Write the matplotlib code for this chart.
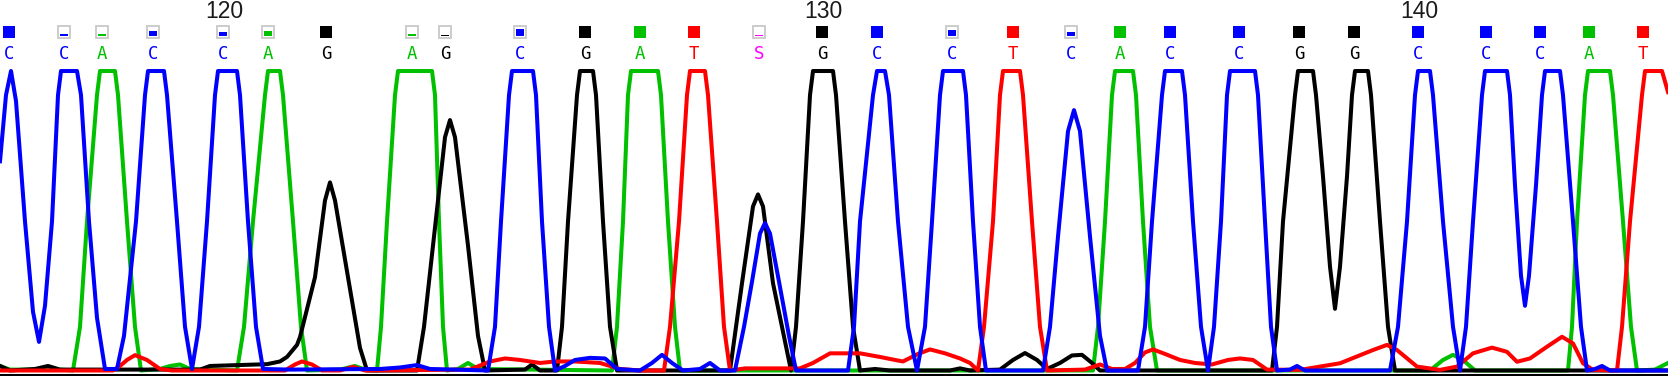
import numpy as np
import matplotlib
matplotlib.use('Agg')
import matplotlib.pyplot as plt
from matplotlib.patches import Rectangle
from matplotlib.transforms import blended_transform_factory

# trace vertices: scan position, relative intensity (1.0 = clipped top)
blue_x = [0, 6, 11, 16, 25, 33, 39, 45, 52, 58, 61, 77, 81, 89, 97, 105, 117, 124, 136, 145,
          148, 164, 167, 177, 185, 192, 199, 207, 215, 218, 237, 240, 248, 256, 263, 290, 380,
          400, 417, 430, 488, 495, 501, 509, 512, 533, 536, 542, 549, 555, 565, 575, 590, 605,
          617, 640, 652, 662, 672, 683, 700, 710, 720, 735, 744, 752, 760, 765, 770, 779, 789,
          796, 848, 854, 860, 873, 877, 885, 889, 898, 908, 917, 925, 932, 940, 943, 963, 966,
          973, 980, 986, 1043, 1050, 1058, 1068, 1074, 1080, 1090, 1100, 1107, 1138, 1145,
          1152, 1162, 1165, 1182, 1185, 1193, 1201, 1208, 1214, 1221, 1227, 1230, 1255, 1258,
          1265, 1271, 1277, 1290, 1297, 1305, 1390, 1398, 1407, 1415, 1418, 1430, 1433, 1443,
          1453, 1460, 1466, 1473, 1482, 1485, 1507, 1510, 1515, 1521, 1525, 1529, 1536, 1542,
          1545, 1560, 1563, 1573, 1581, 1587, 1595, 1602, 1610, 1668]
blue_y = [0.70, 0.92, 1.00, 0.90, 0.50, 0.20, 0.10, 0.22, 0.50, 0.92, 1.00, 1.00, 0.92, 0.50,
          0.18, 0.01, 0.01, 0.12, 0.50, 0.92, 1.00, 1.00, 0.92, 0.50, 0.15, 0.01, 0.15, 0.50,
          0.92, 1.00, 1.00, 0.92, 0.50, 0.15, 0.01, 0.008, 0.01, 0.015, 0.023, 0.01, 0.005,
          0.15, 0.50, 0.92, 1.00, 1.00, 0.92, 0.50, 0.15, 0.005, 0.02, 0.04, 0.047, 0.045,
          0.01, 0.005, 0.03, 0.057, 0.03, 0.005, 0.01, 0.03, 0.005, 0.005, 0.15, 0.30, 0.46,
          0.495, 0.46, 0.30, 0.12, 0.005, 0.005, 0.15, 0.50, 0.92, 1.00, 1.00, 0.92, 0.50,
          0.15, 0.005, 0.15, 0.50, 0.92, 1.00, 1.00, 0.92, 0.50, 0.15, 0.005, 0.005, 0.15, 0.45,
          0.80, 0.87, 0.80, 0.45, 0.12, 0.005, 0.005, 0.15, 0.50, 0.92, 1.00, 1.00, 0.92, 0.50,
          0.15, 0.005, 0.15, 0.50, 0.92, 1.00, 1.00, 0.92, 0.50, 0.15, 0.005, 0.008, 0.02,
          0.005, 0.005, 0.15, 0.50, 0.92, 1.00, 1.00, 0.92, 0.50, 0.15, 0.005, 0.15, 0.50, 0.92,
          1.00, 1.00, 0.92, 0.62, 0.32, 0.22, 0.32, 0.62, 0.92, 1.00, 1.00, 0.92, 0.50, 0.15,
          0.005, 0.01, 0.02, 0.005, 0.005]

green_x = [0, 10, 60, 73, 80, 87, 97, 100, 115, 118, 127, 135, 141, 160, 170, 180, 190, 237,
           244, 253, 265, 268, 280, 283, 293, 301, 307, 340, 355, 365, 377, 381, 387, 395, 398,
           432, 435, 439, 443, 447, 458, 468, 478, 612, 617, 623, 628, 631, 658, 661, 668, 675,
           680, 1093, 1098, 1105, 1112, 1115, 1133, 1136, 1143, 1150, 1157, 1430, 1443, 1453,
           1463, 1475, 1568, 1572, 1577, 1585, 1588, 1610, 1613, 1623, 1631, 1637, 1655, 1668]
green_y = [0.02, 0.008, 0.008, 0.005, 0.15, 0.50, 0.92, 1.00, 1.00, 0.92, 0.50, 0.15, 0.005,
           0.01, 0.02, 0.025, 0.01, 0.005, 0.15, 0.50, 0.92, 1.00, 1.00, 0.92, 0.50, 0.15,
           0.005, 0.008, 0.02, 0.008, 0.005, 0.15, 0.50, 0.92, 1.00, 1.00, 0.92, 0.50, 0.15,
           0.005, 0.01, 0.03, 0.01, 0.005, 0.15, 0.50, 0.92, 1.00, 1.00, 0.92, 0.50, 0.15, 0.005,
           0.005, 0.15, 0.50, 0.92, 1.00, 1.00, 0.92, 0.50, 0.15, 0.005, 0.005, 0.04, 0.057,
           0.04, 0.005, 0.005, 0.15, 0.50, 0.92, 1.00, 1.00, 0.92, 0.50, 0.15, 0.005, 0.008, 0.03]

black_x = [0, 10, 35, 48, 60, 200, 210, 267, 280, 287, 297, 300, 315, 325, 330, 335, 348,
           360, 367, 417, 424, 433, 445, 450, 455, 468, 478, 485, 525, 532, 540, 557, 562, 568,
           577, 580, 593, 596, 603, 610, 617, 730, 742, 753, 758, 763, 773, 791, 796, 803, 810,
           813, 833, 836, 845, 853, 860, 875, 890, 950, 960, 970, 1000, 1013, 1025, 1037, 1047,
           1060, 1072, 1082, 1092, 1100, 1272, 1277, 1283, 1295, 1298, 1313, 1316, 1323, 1330,
           1335, 1340, 1347, 1352, 1355, 1368, 1371, 1380, 1388, 1395, 1668]
black_y = [0.02, 0.005, 0.01, 0.02, 0.008, 0.008, 0.02, 0.026, 0.035, 0.05, 0.09, 0.116,
           0.315, 0.57, 0.63, 0.57, 0.315, 0.08, 0.005, 0.005, 0.15, 0.42, 0.78, 0.837, 0.78,
           0.42, 0.12, 0.005, 0.008, 0.025, 0.005, 0.005, 0.15, 0.50, 0.92, 1.00, 1.00, 0.92,
           0.50, 0.15, 0.005, 0.005, 0.295, 0.55, 0.59, 0.55, 0.295, 0.005, 0.15, 0.50, 0.92,
           1.00, 1.00, 0.92, 0.50, 0.15, 0.005, 0.01, 0.005, 0.005, 0.012, 0.005, 0.008, 0.04,
           0.063, 0.04, 0.01, 0.03, 0.055, 0.057, 0.03, 0.005, 0.005, 0.15, 0.50, 0.92, 1.00,
           1.00, 0.92, 0.65, 0.35, 0.21, 0.35, 0.65, 0.92, 1.00, 1.00, 0.92, 0.50, 0.15, 0.005,
           0.005]

red_x = [0, 113, 120, 127, 135, 147, 160, 172, 285, 295, 302, 312, 322, 340, 353, 365, 470,
         490, 505, 520, 540, 555, 575, 600, 620, 640, 664, 670, 679, 687, 690, 705, 708, 717,
         724, 730, 745, 800, 813, 830, 860, 880, 895, 903, 918, 930, 945, 960, 970, 978, 984,
         993, 1000, 1003, 1020, 1023, 1032, 1040, 1047, 1085, 1100, 1112, 1125, 1135, 1145,
         1153, 1165, 1180, 1195, 1212, 1228, 1240, 1253, 1267, 1300, 1340, 1373, 1387, 1397,
         1417, 1440, 1457, 1473, 1492, 1507, 1517, 1530, 1547, 1562, 1573, 1583, 1593, 1617,
         1622, 1630, 1642, 1645, 1662, 1668]
red_y = [0.005, 0.005, 0.02, 0.04, 0.056, 0.04, 0.01, 0.005, 0.005, 0.025, 0.035, 0.025, 0.005,
         0.005, 0.017, 0.005, 0.008, 0.035, 0.045, 0.04, 0.03, 0.035, 0.035, 0.03, 0.01, 0.005,
         0.005, 0.15, 0.50, 0.92, 1.00, 1.00, 0.92, 0.50, 0.15, 0.005, 0.012, 0.012, 0.03,
         0.062, 0.062, 0.05, 0.04, 0.035, 0.06, 0.075, 0.062, 0.045, 0.03, 0.005, 0.15, 0.50,
         0.92, 1.00, 1.00, 0.92, 0.50, 0.15, 0.005, 0.008, 0.025, 0.01, 0.01, 0.03, 0.065,
         0.075, 0.06, 0.04, 0.03, 0.025, 0.04, 0.045, 0.04, 0.008, 0.007, 0.029, 0.073, 0.09,
         0.073, 0.018, 0.007, 0.018, 0.062, 0.081, 0.067, 0.034, 0.045, 0.084, 0.117, 0.095,
         0.029, 0.007, 0.005, 0.15, 0.50, 0.92, 1.00, 1.00, 0.93]

# base calls, their scan positions and quality (fraction of the box that is filled)
calls = "CCACCAGAGCGATSGCCTCACCGGCCCAT"
call_x = [9, 64, 102, 153, 223, 268, 326, 412, 445, 520, 585, 640, 694, 759, 822, 877, 952,
          1013, 1071, 1120, 1170, 1239, 1299, 1354, 1418, 1486, 1540, 1589, 1643]
call_qual = [1.0, 0.22, 0.25, 0.6, 0.45, 0.6, 1.0, 0.25, 0.15, 0.85, 1.0, 1.0, 1.0, 0.2, 1.0,
             1.0, 0.7, 1.0, 0.45, 1.0, 1.0, 1.0, 1.0, 1.0, 1.0, 1.0, 1.0, 1.0, 1.0]
first_base = 116

base_colors = {'A': '#00c000', 'C': '#0000ff', 'G': '#000000', 'T': '#ff0000', 'S': '#ff00ff'}

fig = plt.figure(figsize=(16.68, 3.76), dpi=100)
ax = fig.add_axes([0, 0, 1, 1])
ax.set_xlim(0, 1668)
ax.set_ylim(-0.0133, 1.2359)
ax.axis('off')

lw = 2.9
ax.plot(green_x, green_y, color=base_colors['A'], lw=lw, zorder=2)
ax.plot(black_x, black_y, color=base_colors['G'], lw=lw, zorder=3)
ax.plot(red_x, red_y, color=base_colors['T'], lw=lw, zorder=4)
ax.plot(blue_x, blue_y, color=base_colors['C'], lw=lw, zorder=5)
ax.axhline(-0.0085, color='black', lw=2.2, zorder=6)

trans = blended_transform_factory(ax.transData, ax.transAxes)
box_w = 11.5
box_h = 12 / 376
box_y = 0.9154
for base, x, q in zip(calls, call_x, call_qual):
    col = base_colors[base]
    if q >= 1.0:
        ax.add_patch(Rectangle((x - box_w / 2, box_y - box_h / 2), box_w, box_h,
                               facecolor=col, edgecolor='none', transform=trans))
    else:
        ax.add_patch(Rectangle((x - box_w / 2, box_y - box_h / 2), box_w, box_h,
                               facecolor='white', edgecolor='#c8c8c8', lw=1.3, transform=trans))
        ax.add_patch(Rectangle((x - box_w / 2 + 1.5, box_y - box_h / 2 + 1.5 / 376),
                               box_w - 3, (box_h - 3 / 376) * q,
                               facecolor=col, edgecolor='none', transform=trans))
    ax.text(x, 0.857, base, color=col, transform=trans, ha='center', va='center',
            fontsize=12.5, family='DejaVu Sans Mono')

for i, x in enumerate(call_x):
    num = first_base + i
    if num % 10 == 0:
        ax.text(x + 1, 0.9707, str(num), color='#1a1a1a', transform=trans, ha='center',
                va='center', fontsize=16.5, family='Liberation Sans')

fig.savefig('out.png', dpi=100, facecolor='white')
